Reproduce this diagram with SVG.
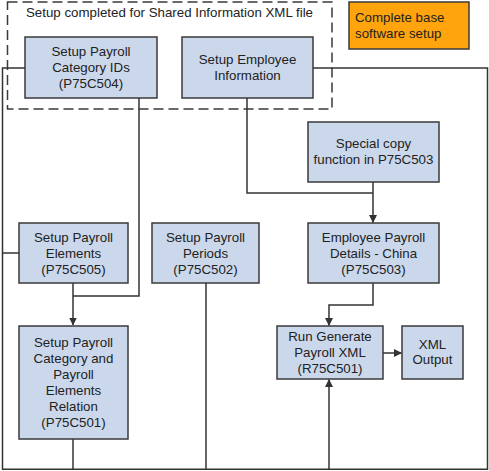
<svg xmlns="http://www.w3.org/2000/svg" width="489" height="471" viewBox="0 0 489 471">
<defs>
<marker id="arr" markerWidth="8" markerHeight="8" refX="7.5" refY="4" orient="auto" markerUnits="userSpaceOnUse">
<path d="M0,0 L8,4 L0,8 Z" fill="#333"/>
</marker>
<style>
.box{fill:#cbd8ec;stroke:#3a3a3a;stroke-width:1.5}
.org{fill:#ffa40d;stroke:#3a3a3a;stroke-width:1.5}
.t{font-family:"Liberation Sans",Arial,sans-serif;font-size:13.3px;fill:#222;text-anchor:middle}
.tl{font-family:"Liberation Sans",Arial,sans-serif;font-size:13.3px;fill:#222}
.c{fill:none;stroke:#333;stroke-width:1.5}
</style>
</defs>
<rect width="489" height="471" fill="#fff"/>
<g id="group-shared">
<rect x="7.5" y="2" width="324.5" height="107" fill="none" stroke="#3a3a3a" stroke-width="1.5" stroke-dasharray="10,5"/>
<text class="tl" x="26" y="16.8">Setup completed for Shared Information XML file</text>
</g>
<g id="connectors">
<path class="c" d="M25,68 H2.5 V469.3 H487.5 V68 H313"/>
<path class="c" d="M139,98 V296 H73"/>
<path class="c" d="M73,283 V325" marker-end="url(#arr)"/>
<path class="c" d="M73,439 V469"/>
<path class="c" d="M206,283 V469"/>
<path class="c" d="M2.5,253 H19"/>
<path class="c" d="M247,98 V193 H373"/>
<path class="c" d="M373,182 V222.5" marker-end="url(#arr)"/>
<path class="c" d="M373,283 V305 H329 V325.5" marker-end="url(#arr)"/>
<path class="c" d="M329,469 V379.5" marker-end="url(#arr)"/>
<path class="c" d="M383,353 H401.5" marker-end="url(#arr)"/>
</g>
<g id="n-catids">
<rect class="box" x="25" y="37" width="132" height="61"/>
<text class="t" x="91" y="55.7">Setup Payroll</text>
<text class="t" x="91" y="71.7">Category IDs</text>
<text class="t" x="91" y="87.7">(P75C504)</text>
</g>
<g id="n-empinfo">
<rect class="box" x="182" y="37" width="131" height="61"/>
<text class="t" x="247.5" y="64">Setup Employee</text>
<text class="t" x="247.5" y="80">Information</text>
</g>
<g id="n-base">
<rect class="org" x="349" y="2" width="120" height="47"/>
<text class="tl" x="355" y="21.8">Complete base</text>
<text class="tl" x="355" y="37.8">software setup</text>
</g>
<g id="n-special">
<rect class="box" x="308" y="122" width="131" height="60"/>
<text class="t" x="373.5" y="147.8">Special copy</text>
<text class="t" x="373.5" y="163.8">function in P75C503</text>
</g>
<g id="n-elements">
<rect class="box" x="19" y="223" width="109" height="60"/>
<text class="t" x="73.5" y="241.7">Setup Payroll</text>
<text class="t" x="73.5" y="257.7">Elements</text>
<text class="t" x="73.5" y="273.7">(P75C505)</text>
</g>
<g id="n-periods">
<rect class="box" x="152" y="223" width="107" height="60"/>
<text class="t" x="205.5" y="241.7">Setup Payroll</text>
<text class="t" x="205.5" y="257.7">Periods</text>
<text class="t" x="205.5" y="273.7">(P75C502)</text>
</g>
<g id="n-emppayroll">
<rect class="box" x="308" y="223" width="131" height="60"/>
<text class="t" x="373.5" y="241.7">Employee Payroll</text>
<text class="t" x="373.5" y="257.7">Details - China</text>
<text class="t" x="373.5" y="273.7">(P75C503)</text>
</g>
<g id="n-relation">
<rect class="box" x="19" y="326" width="109" height="113"/>
<text class="t" x="73.5" y="346.7">Setup Payroll</text>
<text class="t" x="73.5" y="362.7">Category and</text>
<text class="t" x="73.5" y="378.7">Payroll</text>
<text class="t" x="73.5" y="394.7">Elements</text>
<text class="t" x="73.5" y="410.7">Relation</text>
<text class="t" x="73.5" y="426.7">(P75C501)</text>
</g>
<g id="n-run">
<rect class="box" x="277" y="326" width="106" height="53"/>
<text class="t" x="330" y="340.7">Run Generate</text>
<text class="t" x="330" y="356.7">Payroll XML</text>
<text class="t" x="330" y="372.7">(R75C501)</text>
</g>
<g id="n-xml">
<rect class="box" x="402" y="326" width="61" height="53"/>
<text class="t" x="432.5" y="348.7">XML</text>
<text class="t" x="432.5" y="364">Output</text>
</g>
</svg>
